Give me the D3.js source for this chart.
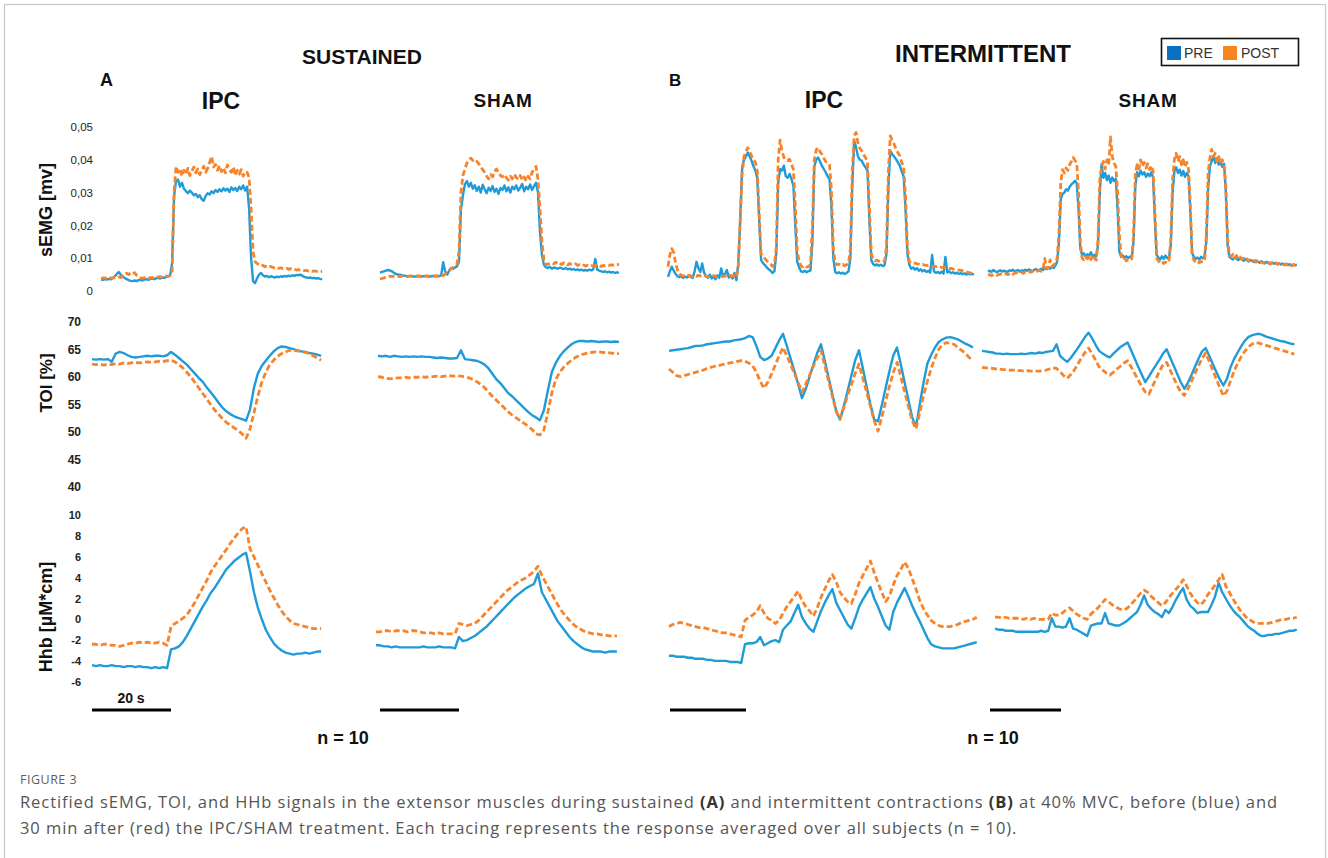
<!DOCTYPE html>
<html><head><meta charset="utf-8">
<script src="https://cdn.jsdelivr.net/npm/d3@7"></script>
<style>body{margin:0;background:#fff}svg{display:block}</style>
</head><body>
<svg id="c" width="1328" height="858"></svg>
<script>
// ---------------- DATA ----------------
// sEMG [mV], sampled every 0.5 s
const emgSustIpcPre = [
.0035,.0034,.0036,.0035,.0037,.0036,.0040,.0045,.0052,.0058,
.0050,.0044,.0040,.0036,.0033,.0031,.0030,.0032,.0030,.0033,
.0034,.0032,.0035,.0036,.0034,.0037,.0038,.0036,.0039,.0040,
.0038,.0041,.0040,.0043,.0045,.0048,.0085,.0290,.0335,.0340,
.0318,.0330,.0312,.0305,.0298,.0306,.0300,.0292,.0296,.0286,
.0292,.0280,.0275,.0290,.0298,.0294,.0304,.0298,.0308,.0302,
.0310,.0304,.0313,.0306,.0312,.0302,.0316,.0308,.0314,.0305,
.0318,.0310,.0322,.0306,.0318,.0250,.0100,.0030,.0024,.0038,
.0050,.0055,.0048,.0044,.0046,.0042,.0045,.0043,.0041,.0044,
.0042,.0045,.0043,.0046,.0044,.0047,.0045,.0048,.0046,.0049,
.0048,.0050,.0046,.0043,.0041,.0040,.0041,.0039,.0040,.0038,
.0039,.0037,.0036];
const emgSustIpcPost = [
.0038,.0040,.0039,.0041,.0038,.0040,.0039,.0042,.0040,.0043,
.0041,.0046,.0050,.0054,.0050,.0055,.0052,.0056,.0048,.0044,
.0040,.0039,.0041,.0040,.0038,.0041,.0040,.0042,.0040,.0043,
.0044,.0042,.0045,.0046,.0044,.0047,.0060,.0300,.0380,.0362,
.0372,.0350,.0368,.0356,.0374,.0352,.0366,.0378,.0360,.0372,
.0355,.0368,.0380,.0362,.0374,.0392,.0410,.0378,.0386,.0368,
.0382,.0364,.0376,.0360,.0384,.0370,.0362,.0378,.0352,.0368,
.0356,.0370,.0350,.0364,.0362,.0345,.0250,.0120,.0090,.0084,
.0080,.0076,.0078,.0074,.0077,.0073,.0075,.0072,.0070,.0072,
.0069,.0071,.0068,.0067,.0069,.0066,.0068,.0065,.0066,.0064,
.0065,.0063,.0064,.0062,.0063,.0061,.0062,.0060,.0061,.0060,
.0061,.0059,.0060];
const emgSustShamPre = [
.0056,.0058,.0060,.0062,.0064,.0063,.0060,.0056,.0052,.0050,
.0050,.0048,.0047,.0046,.0045,.0046,.0045,.0044,.0045,.0046,
.0045,.0044,.0045,.0046,.0045,.0044,.0045,.0046,.0045,.0046,
.0045,.0048,.0088,.0060,.0050,.0062,.0070,.0068,.0072,.0075,
.0090,.0250,.0292,.0325,.0335,.0318,.0330,.0312,.0322,.0305,
.0318,.0300,.0324,.0310,.0298,.0315,.0305,.0320,.0302,.0312,
.0296,.0314,.0308,.0322,.0304,.0316,.0300,.0318,.0310,.0322,
.0306,.0315,.0326,.0304,.0318,.0310,.0325,.0308,.0320,.0330,
.0300,.0180,.0110,.0080,.0072,.0070,.0074,.0068,.0072,.0070,
.0068,.0071,.0069,.0067,.0070,.0066,.0068,.0065,.0067,.0064,
.0066,.0063,.0065,.0062,.0064,.0062,.0065,.0063,.0066,.0098,
.0065,.0062,.0060,.0058,.0060,.0057,.0059,.0056,.0058,.0055,
.0057,.0055];
const emgSustShamPost = [
.0037,.0038,.0040,.0042,.0044,.0045,.0044,.0045,.0046,.0045,
.0044,.0045,.0046,.0045,.0044,.0045,.0046,.0045,.0044,.0045,
.0046,.0045,.0044,.0045,.0046,.0045,.0044,.0045,.0046,.0045,
.0046,.0045,.0047,.0052,.0058,.0062,.0068,.0072,.0076,.0082,
.0120,.0300,.0352,.0372,.0390,.0400,.0405,.0398,.0402,.0395,
.0388,.0378,.0370,.0362,.0350,.0342,.0355,.0348,.0365,.0372,
.0360,.0352,.0348,.0355,.0345,.0338,.0350,.0342,.0356,.0346,
.0340,.0352,.0338,.0348,.0335,.0350,.0342,.0362,.0372,.0380,
.0340,.0250,.0150,.0095,.0080,.0082,.0084,.0086,.0083,.0088,
.0082,.0085,.0080,.0086,.0083,.0079,.0084,.0081,.0080,.0083,
.0078,.0080,.0077,.0079,.0076,.0078,.0075,.0077,.0076,.0078,
.0076,.0077,.0075,.0078,.0077,.0079,.0078,.0080,.0079,.0081,
.0080,.0082];
const emgIntIpcPre = [
.0043,.0060,.0074,.0062,.0052,.0045,.0042,.0046,.0040,.0044,
.0041,.0047,.0043,.0040,.0060,.0089,.0070,.0058,.0084,.0055,
.0046,.0040,.0050,.0038,.0044,.0036,.0048,.0040,.0069,.0045,
.0052,.0064,.0041,.0047,.0038,.0055,.0033,.0084,.0215,.0377,
.0400,.0410,.0422,.0410,.0397,.0380,.0367,.0345,.0215,.0094,
.0085,.0079,.0072,.0066,.0062,.0055,.0060,.0114,.0330,.0372,
.0367,.0382,.0350,.0345,.0357,.0341,.0320,.0200,.0090,.0072,
.0060,.0058,.0062,.0057,.0061,.0062,.0150,.0380,.0400,.0407,
.0395,.0382,.0372,.0362,.0350,.0340,.0260,.0100,.0058,.0054,
.0057,.0053,.0056,.0052,.0055,.0060,.0100,.0320,.0458,.0437,
.0410,.0400,.0397,.0385,.0377,.0367,.0215,.0094,.0082,.0078,
.0081,.0077,.0080,.0076,.0079,.0114,.0316,.0427,.0417,.0410,
.0402,.0392,.0382,.0365,.0350,.0250,.0114,.0080,.0068,.0072,
.0065,.0070,.0062,.0066,.0060,.0064,.0058,.0062,.0056,.0110,
.0060,.0055,.0058,.0054,.0059,.0053,.0104,.0056,.0060,.0054,
.0057,.0053,.0056,.0052,.0055,.0051,.0054,.0050,.0053,.0051,
.0052,.0050];
const emgIntIpcPost = [
.0074,.0110,.0129,.0118,.0085,.0064,.0052,.0048,.0046,.0047,
.0045,.0048,.0046,.0044,.0047,.0045,.0048,.0046,.0044,.0047,
.0045,.0043,.0046,.0044,.0047,.0045,.0043,.0046,.0045,.0044,
.0046,.0045,.0050,.0047,.0045,.0048,.0043,.0074,.0215,.0357,
.0410,.0425,.0437,.0425,.0412,.0400,.0392,.0365,.0235,.0114,
.0105,.0099,.0092,.0086,.0082,.0075,.0080,.0134,.0400,.0460,
.0427,.0407,.0400,.0397,.0402,.0387,.0370,.0260,.0120,.0092,
.0076,.0074,.0078,.0073,.0075,.0080,.0200,.0400,.0430,.0437,
.0425,.0417,.0405,.0395,.0390,.0385,.0310,.0130,.0085,.0080,
.0082,.0078,.0081,.0077,.0080,.0084,.0130,.0370,.0473,.0483,
.0450,.0435,.0427,.0415,.0407,.0392,.0255,.0114,.0095,.0092,
.0094,.0091,.0093,.0090,.0092,.0134,.0367,.0473,.0458,.0448,
.0432,.0422,.0412,.0392,.0380,.0290,.0134,.0090,.0086,.0084,
.0085,.0083,.0082,.0080,.0081,.0079,.0078,.0077,.0078,.0076,
.0075,.0074,.0075,.0073,.0072,.0071,.0072,.0070,.0068,.0069,
.0067,.0066,.0065,.0064,.0063,.0062,.0060,.0058,.0057,.0055,
.0054,.0053];
const emgIntShamPre = [
.0059,.0062,.0058,.0064,.0060,.0057,.0061,.0063,.0059,.0062,
.0060,.0058,.0063,.0061,.0065,.0060,.0062,.0064,.0059,.0063,
.0061,.0065,.0062,.0066,.0063,.0060,.0064,.0067,.0062,.0065,
.0068,.0064,.0070,.0066,.0072,.0068,.0074,.0070,.0078,.0090,
.0150,.0280,.0296,.0300,.0310,.0306,.0318,.0325,.0330,.0336,
.0328,.0250,.0130,.0110,.0115,.0105,.0112,.0108,.0118,.0104,
.0110,.0106,.0140,.0300,.0387,.0345,.0360,.0338,.0352,.0330,
.0346,.0335,.0342,.0250,.0120,.0104,.0108,.0102,.0106,.0100,
.0105,.0102,.0150,.0320,.0362,.0350,.0367,.0355,.0362,.0348,
.0358,.0350,.0362,.0346,.0220,.0110,.0102,.0096,.0106,.0098,
.0108,.0100,.0104,.0140,.0300,.0365,.0377,.0360,.0370,.0352,
.0366,.0348,.0360,.0350,.0240,.0115,.0104,.0098,.0102,.0096,
.0104,.0100,.0106,.0150,.0310,.0380,.0395,.0412,.0390,.0402,
.0385,.0396,.0378,.0388,.0300,.0140,.0104,.0100,.0096,.0102,
.0098,.0094,.0100,.0096,.0092,.0098,.0094,.0090,.0095,.0091,
.0088,.0093,.0089,.0086,.0091,.0087,.0084,.0089,.0085,.0082,
.0087,.0083,.0086,.0082,.0085,.0081,.0084,.0080,.0083,.0079,
.0082,.0078,.0081,.0079,.0080];
const emgIntShamPost = [
.0048,.0050,.0047,.0049,.0051,.0048,.0050,.0052,.0049,.0051,
.0053,.0050,.0052,.0055,.0051,.0054,.0056,.0053,.0055,.0057,
.0054,.0058,.0056,.0059,.0057,.0060,.0062,.0058,.0061,.0063,
.0060,.0065,.0099,.0068,.0072,.0095,.0074,.0080,.0085,.0100,
.0180,.0330,.0370,.0360,.0375,.0368,.0385,.0395,.0407,.0398,
.0390,.0300,.0150,.0100,.0095,.0104,.0098,.0108,.0096,.0110,
.0100,.0094,.0160,.0340,.0380,.0395,.0372,.0400,.0385,.0470,
.0410,.0390,.0380,.0300,.0170,.0110,.0094,.0098,.0092,.0096,
.0094,.0098,.0170,.0360,.0385,.0372,.0400,.0380,.0392,.0375,
.0388,.0370,.0382,.0365,.0250,.0100,.0092,.0086,.0090,.0084,
.0088,.0085,.0090,.0160,.0340,.0400,.0420,.0395,.0410,.0385,
.0400,.0378,.0392,.0370,.0260,.0110,.0094,.0088,.0092,.0086,
.0090,.0088,.0094,.0170,.0360,.0405,.0432,.0410,.0420,.0395,
.0410,.0388,.0400,.0380,.0320,.0160,.0110,.0105,.0112,.0102,
.0108,.0098,.0104,.0096,.0100,.0094,.0098,.0092,.0095,.0090,
.0093,.0088,.0091,.0086,.0089,.0085,.0088,.0084,.0087,.0083,
.0086,.0082,.0085,.0081,.0084,.0080,.0083,.0079,.0082,.0078,
.0081,.0077,.0080,.0078,.0079];

// TOI [%], sampled every 1 s
const toiSustIpcPre = [
63.2,63.1,63.2,63.1,63.2,62.7,64.2,64.5,64.3,63.9,
63.6,63.5,63.6,63.7,63.8,63.7,63.8,63.8,63.7,63.9,
64.5,64.0,63.4,62.8,62.2,61.4,60.6,59.8,59.1,58.1,
57.2,56.3,55.3,54.4,53.7,53.2,52.8,52.5,52.3,52.0,
54.0,58.0,60.6,62.0,62.9,63.8,64.6,65.2,65.5,65.4,
65.2,65.0,64.8,64.6,64.5,64.3,64.2,64.0,63.8];
const toiSustIpcPost = [
62.3,62.2,62.3,62.1,62.3,62.2,62.4,62.3,62.5,62.4,
62.5,62.6,62.5,62.6,62.7,62.6,62.7,62.8,62.8,62.9,
63.0,62.7,62.2,61.6,60.8,60.0,59.0,58.0,57.0,56.0,
55.0,54.0,53.2,52.4,51.7,51.2,50.7,50.2,49.6,48.8,
50.5,53.4,56.5,59.0,60.8,62.2,63.0,63.7,64.2,64.5,
64.8,64.8,64.7,64.6,64.4,64.2,63.8,63.4,63.0];
const toiSustShamPre = [
63.8,63.7,63.8,63.6,63.8,63.7,63.6,63.7,63.6,63.7,
63.6,63.7,63.6,63.6,63.5,63.4,63.5,63.4,63.3,63.3,
63.4,64.8,63.2,63.1,63.0,62.9,62.6,62.2,61.5,60.5,
59.5,58.8,57.9,57.0,56.4,55.7,55.0,54.3,53.6,53.0,
52.6,52.1,53.9,57.5,60.8,62.5,63.7,64.6,65.3,65.9,
66.3,66.5,66.5,66.4,66.5,66.4,66.3,66.4,66.4,66.3,
66.4,66.3];
const toiSustShamPost = [
60.0,59.9,59.7,59.6,59.7,59.8,59.8,59.9,59.8,59.9,
59.9,60.0,59.9,60.0,60.0,60.1,60.0,60.1,60.2,60.1,
60.2,60.1,60.0,59.8,59.5,59.1,58.6,58.0,57.2,56.4,
55.7,55.0,54.3,53.6,53.0,52.5,52.0,51.5,51.0,50.4,
49.6,49.4,50.3,53.5,57.0,59.5,60.8,61.7,62.4,63.0,
63.5,63.9,64.1,64.3,64.4,64.5,64.5,64.4,64.4,64.3,
64.2,64.2];
const toiIntIpcPre = [
64.7,64.8,64.9,65.0,65.1,65.2,65.4,65.6,65.6,65.7,
65.9,66.0,66.1,66.2,66.3,66.4,66.4,66.6,66.7,66.8,
67.0,67.4,67.2,65.6,63.6,63.0,63.3,63.8,65.2,66.6,
67.8,65.6,63.3,61.0,58.6,56.1,57.8,60.0,62.2,64.3,
65.9,62.9,59.8,56.8,53.8,52.2,54.6,57.4,60.2,63.0,
64.8,61.6,58.2,55.0,52.2,51.9,54.8,57.9,61.0,63.8,
65.3,62.2,59.0,55.8,52.6,50.9,55.0,59.0,62.4,64.0,
65.3,66.3,66.8,67.1,67.2,67.0,66.8,66.4,66.0,65.7,65.3];
const toiIntIpcPost = [
61.4,60.8,60.2,60.0,60.2,60.4,60.6,60.8,61.0,61.2,
61.5,61.7,61.9,62.0,62.2,62.3,62.5,62.6,62.8,62.9,
62.8,62.5,62.0,60.8,59.2,57.9,59.0,60.5,62.2,63.8,
65.3,63.8,62.2,60.6,58.9,57.2,58.7,60.3,61.9,63.4,
64.7,62.0,59.2,56.4,53.6,52.3,54.4,56.6,58.6,60.6,
62.3,59.8,57.2,54.6,52.0,50.1,52.6,55.5,58.2,60.7,
62.6,60.0,57.3,54.6,52.0,50.5,53.5,56.6,59.2,61.5,
63.4,65.0,65.9,66.2,66.1,65.9,65.3,64.8,64.2,63.5,62.9];
const toiIntShamPre = [
64.7,64.6,64.5,64.4,64.2,64.2,64.1,64.2,64.1,64.1,
64.1,64.2,64.1,64.2,64.3,64.2,64.4,64.3,64.5,64.6,
64.7,65.9,63.8,63.2,62.7,63.4,64.3,65.2,66.2,67.2,
68.0,67.0,65.8,64.7,64.2,63.8,63.5,64.2,64.8,65.4,
65.8,66.2,64.8,63.3,61.8,60.4,59.0,60.0,61.1,62.1,
63.1,64.2,65.0,63.5,62.0,60.5,59.0,57.8,58.9,60.3,
61.8,63.3,64.6,65.2,63.8,62.3,60.9,59.5,58.4,59.6,
61.7,63.2,64.4,65.5,66.5,67.2,67.5,67.7,67.8,67.6,
67.3,67.1,66.9,66.7,66.5,66.4,66.2,66.0,65.9];
const toiIntShamPost = [
61.7,61.6,61.6,61.5,61.4,61.4,61.3,61.3,61.2,61.2,
61.1,61.1,61.0,61.1,61.0,61.0,61.0,61.1,61.2,61.4,
61.6,61.5,60.9,60.2,59.7,60.4,61.2,62.3,63.4,64.4,
65.2,64.2,63.0,61.8,61.2,60.7,60.3,60.8,61.4,61.9,
62.5,62.9,61.8,60.6,59.4,58.2,57.2,56.8,58.2,59.6,
61.0,62.2,62.6,61.2,59.8,58.4,57.2,56.6,57.8,59.2,
60.6,62.0,63.3,64.3,62.8,61.2,59.6,58.0,56.5,57.4,
59.2,61.0,62.4,63.6,64.6,65.4,65.9,66.2,66.1,65.9,
65.7,65.5,65.3,65.1,64.9,64.7,64.5,64.3,64.1];

// Hhb [uM*cm], sampled every 1 s
const hhbSustIpcPre = [
-4.4,-4.5,-4.4,-4.5,-4.5,-4.4,-4.5,-4.5,-4.6,-4.5,
-4.5,-4.6,-4.5,-4.6,-4.6,-4.7,-4.6,-4.7,-4.6,-4.7,
-2.9,-2.8,-2.6,-2.2,-1.6,-0.9,-0.2,0.5,1.2,1.8,
2.5,3.0,3.6,4.2,4.8,5.2,5.6,5.9,6.2,6.4,
4.6,2.6,1.1,0.0,-1.0,-1.7,-2.3,-2.7,-3.0,-3.2,
-3.3,-3.4,-3.3,-3.3,-3.2,-3.3,-3.2,-3.1,-3.1];
const hhbSustIpcPost = [
-2.4,-2.4,-2.5,-2.4,-2.4,-2.5,-2.5,-2.6,-2.5,-2.4,
-2.3,-2.3,-2.2,-2.3,-2.2,-2.3,-2.3,-2.2,-2.3,-2.5,
-0.7,-0.4,-0.2,0.1,0.4,1.0,1.6,2.3,3.0,3.7,
4.5,5.1,5.6,6.2,6.7,7.3,7.8,8.3,8.7,8.9,
6.8,6.0,5.2,4.4,3.6,2.8,2.1,1.4,0.8,0.3,
-0.1,-0.4,-0.5,-0.6,-0.7,-0.8,-0.9,-0.9,-0.9];
const hhbSustShamPre = [
-2.5,-2.5,-2.6,-2.6,-2.7,-2.6,-2.7,-2.7,-2.7,-2.7,
-2.7,-2.7,-2.6,-2.7,-2.7,-2.7,-2.6,-2.7,-2.7,-2.7,
-2.8,-1.7,-2.1,-2.0,-1.8,-1.6,-1.3,-1.0,-0.7,-0.3,
0.1,0.5,0.9,1.3,1.7,2.1,2.4,2.7,3.0,3.2,
3.4,4.4,2.6,1.9,1.2,0.5,-0.2,-0.7,-1.2,-1.7,
-2.1,-2.4,-2.7,-2.9,-3.0,-3.1,-3.1,-3.1,-3.2,-3.1,
-3.1,-3.1];
const hhbSustShamPost = [
-1.2,-1.2,-1.1,-1.1,-1.2,-1.1,-1.1,-1.1,-1.2,-1.1,
-1.1,-1.2,-1.3,-1.3,-1.3,-1.4,-1.3,-1.4,-1.4,-1.4,
-1.4,-0.4,-0.5,-0.6,-0.5,-0.4,-0.1,0.3,0.7,1.1,
1.5,1.9,2.3,2.7,3.0,3.3,3.6,3.8,4.0,4.3,
4.6,5.1,4.2,3.5,2.8,2.1,1.4,0.8,0.3,-0.1,
-0.5,-0.8,-1.0,-1.2,-1.3,-1.4,-1.4,-1.5,-1.5,-1.6,
-1.6,-1.6];
const hhbIntIpcPre = [
-3.5,-3.5,-3.6,-3.6,-3.6,-3.7,-3.7,-3.8,-3.8,-3.8,
-3.9,-3.9,-4.0,-4.0,-4.0,-4.0,-4.1,-4.1,-4.1,-4.2,
-2.4,-2.3,-2.3,-2.2,-1.7,-2.5,-2.3,-2.1,-2.0,-2.2,
-1.0,-0.6,-0.2,0.6,1.4,0.2,-0.4,-0.9,-1.2,-0.2,
0.8,1.6,2.3,2.9,1.6,0.9,0.2,-0.5,-0.9,0.1,
1.2,1.9,2.5,3.1,2.0,1.2,0.3,-0.6,-1.0,0.7,
1.6,2.3,3.0,2.2,1.3,0.5,-0.2,-1.0,-1.8,-2.4,
-2.6,-2.7,-2.8,-2.8,-2.8,-2.8,-2.7,-2.6,-2.5,-2.4,-2.3,-2.2];
const hhbIntIpcPost = [
-0.7,-0.5,-0.4,-0.3,-0.4,-0.5,-0.6,-0.7,-0.8,-0.8,
-0.9,-1.0,-1.1,-1.2,-1.3,-1.3,-1.4,-1.5,-1.6,-1.7,
-0.1,0.2,0.4,0.7,1.3,0.6,0.1,-0.1,-0.4,-0.1,
0.6,1.2,1.7,2.2,2.7,1.8,1.2,0.8,0.3,1.1,
2.1,2.9,3.7,4.3,3.6,2.6,2.1,1.7,1.5,2.4,
3.5,4.2,4.9,5.6,4.5,3.5,2.6,1.7,2.2,3.3,
4.2,4.8,5.5,4.9,3.9,2.9,1.8,1.0,0.4,-0.1,
-0.4,-0.6,-0.7,-0.7,-0.7,-0.6,-0.5,-0.3,-0.2,-0.1,0.0,0.2];
const hhbIntShamPre = [
-0.9,-1.0,-1.0,-1.1,-1.1,-1.1,-1.2,-1.2,-1.2,-1.2,
-1.2,-1.2,-1.2,-1.1,-1.2,-1.1,0.1,-0.7,-0.7,-0.8,
-0.7,0.1,-0.9,-1.0,-1.2,-1.4,-1.6,-0.6,-0.5,-0.4,
-0.4,0.6,-0.4,-0.5,-0.6,-0.6,-0.4,-0.2,0.1,0.4,
0.7,1.4,2.3,1.4,1.0,0.7,0.5,0.2,0.9,0.6,
1.2,1.9,2.5,3.0,1.9,1.3,1.0,0.6,0.7,0.7,
0.7,1.4,2.2,3.5,2.6,2.0,1.4,0.9,0.5,0.2,
-0.2,-0.6,-0.9,-1.1,-1.4,-1.6,-1.6,-1.5,-1.5,-1.4,
-1.4,-1.3,-1.2,-1.1,-1.1,-1.0];
const hhbIntShamPost = [
0.2,0.2,0.1,0.2,0.1,0.1,0.1,0.1,0.0,0.1,
0.0,0.1,0.0,0.0,0.0,0.0,0.6,0.4,0.4,0.6,
0.9,1.1,0.8,0.5,0.3,0.1,0.0,0.5,0.8,1.1,
1.5,1.9,1.7,1.4,1.2,1.0,0.9,1.0,1.3,1.7,
2.1,2.5,2.8,2.6,2.2,1.9,1.6,1.3,1.6,2.1,
2.5,2.9,3.3,3.8,3.2,2.5,2.0,1.6,1.4,1.8,
2.4,2.8,3.3,3.8,4.3,3.2,2.6,2.0,1.4,0.9,
0.5,0.1,-0.1,-0.3,-0.4,-0.4,-0.4,-0.4,-0.3,-0.2,
-0.1,0.0,0.0,0.1,0.1,0.2];

// ticks
const emgTicks = [0,0.01,0.02,0.03,0.04,0.05];
const emgTickLabels = ["0","0,01","0,02","0,03","0,04","0,05"];
const toiTicks = [40,45,50,55,60,65,70];
const hhbTicks = [-6,-4,-2,0,2,4,6,8,10];
const seriesNames = ["PRE","POST"];

// ---------------- DRAW ----------------
const svg = d3.select("#c");
const FONT = "'Liberation Sans', Arial, Helvetica, sans-serif";
const BLUE = "#1f9bd8", ORANGE = "#f7842a";

svg.append("rect").attr("x",4.5).attr("y",4.5).attr("width",1321).attr("height",900)
  .attr("fill","#fff").attr("stroke","#c8c8c8").attr("stroke-width",1.2);

const yEmg = d3.scaleLinear().domain([0,0.05]).range([291,127]);
const yToi = d3.scaleLinear().domain([40,70]).range([486.7,321.7]);
const yHhb = d3.scaleLinear().domain([-6,10]).range([681.7,515.3]);

const traces = [
  {pre:emgSustIpcPre,  post:emgSustIpcPost,  y:yEmg, x0:101, pps:3.95, dt:0.5},
  {pre:emgSustShamPre, post:emgSustShamPost, y:yEmg, x0:380, pps:3.95, dt:0.5},
  {pre:emgIntIpcPre,   post:emgIntIpcPost,   y:yEmg, x0:668, pps:3.8,  dt:0.5},
  {pre:emgIntShamPre,  post:emgIntShamPost,  y:yEmg, x0:988, pps:3.55, dt:0.5},
  {pre:toiSustIpcPre,  post:toiSustIpcPost,  y:yToi, x0:92,  pps:3.95, dt:1},
  {pre:toiSustShamPre, post:toiSustShamPost, y:yToi, x0:378, pps:3.95, dt:1},
  {pre:toiIntIpcPre,   post:toiIntIpcPost,   y:yToi, x0:669, pps:3.8,  dt:1},
  {pre:toiIntShamPre,  post:toiIntShamPost,  y:yToi, x0:982, pps:3.55, dt:1},
  {pre:hhbSustIpcPre,  post:hhbSustIpcPost,  y:yHhb, x0:92,  pps:3.95, dt:1},
  {pre:hhbSustShamPre, post:hhbSustShamPost, y:yHhb, x0:376, pps:3.95, dt:1},
  {pre:hhbIntIpcPre,   post:hhbIntIpcPost,   y:yHhb, x0:669, pps:3.8,  dt:1},
  {pre:hhbIntShamPre,  post:hhbIntShamPost,  y:yHhb, x0:995, pps:3.55, dt:1}
];

const gLines = svg.append("g");
traces.forEach(tr => {
  [["pre",BLUE,2.4,null],["post",ORANGE,2.8,"6 3"]].forEach(([k,col,w,dash]) => {
    const arr = tr[k];
    const tMax = (arr.length-1)*tr.dt;
    const x = d3.scaleLinear().domain([0,tMax]).range([tr.x0, tr.x0 + tMax*tr.pps]);
    const line = d3.line().x((d,i)=>x(i*tr.dt)).y(d=>tr.y(d));
    const p = gLines.append("path").datum(arr).attr("d",line)
      .attr("fill","none").attr("stroke",col).attr("stroke-width",w)
      .attr("stroke-linejoin","round");
    if (dash) p.attr("stroke-dasharray",dash);
  });
});

function yAxis(scale, ticks, fmt, x, size, weight){
  const g = svg.append("g").attr("transform",`translate(${x},0)`)
    .call(d3.axisLeft(scale).tickValues(ticks).tickSize(0).tickPadding(0).tickFormat(fmt));
  g.select(".domain").remove();
  g.selectAll("text").attr("font-family",FONT).attr("font-size",size)
    .attr("font-weight",weight).attr("fill","#222");
}
yAxis(yEmg, emgTicks, (d,i)=>emgTickLabels[i], 93, 11.5, "normal");
yAxis(yToi, toiTicks, d=>String(d), 81, 12, "bold");
yAxis(yHhb, hhbTicks, d=>String(d), 81, 11, "bold");

function txt(x,y,s,size,weight,anchor,extra){
  const t = svg.append("text").attr("x",x).attr("y",y).text(s)
    .attr("font-family",FONT).attr("font-size",size).attr("font-weight",weight||"bold")
    .attr("text-anchor",anchor||"middle").attr("fill","#111");
  if (extra) extra(t);
  return t;
}
// titles
txt(362,64,"SUSTAINED",21,"bold");
txt(983,62,"INTERMITTENT",24,"bold");
txt(100,86,"A",18,"bold","start");
txt(669,86,"B",17,"bold","start");
txt(221,109,"IPC",23,"bold");
txt(503,107,"SHAM",19,"bold","middle",t=>t.attr("letter-spacing",0.8));
txt(824,108,"IPC",23,"bold");
txt(1148,107,"SHAM",19,"bold","middle",t=>t.attr("letter-spacing",0.8));

// y titles
[["sEMG [mv]",210,18],["TOI [%]",383,17],["Hhb [µM*cm]",617,18]].forEach(([s,cy,sz])=>{
  svg.append("text").attr("transform",`translate(52,${cy}) rotate(-90)`)
    .attr("text-anchor","middle").attr("font-family",FONT).attr("font-size",sz)
    .attr("font-weight","bold").attr("fill","#111").text(s);
});

// scale bars (20 s)
const bars = [{x0:92,pps:3.95},{x0:380,pps:3.95},{x0:670,pps:3.8},{x0:990,pps:3.55}];
const barSeconds = 20;
bars.forEach(b=>{
  svg.append("line").attr("x1",b.x0).attr("x2",b.x0+barSeconds*b.pps)
    .attr("y1",710).attr("y2",710).attr("stroke","#000").attr("stroke-width",3);
});
txt(131,703,"20 s",14,"bold");
txt(343,744,"n = 10",18,"bold");
txt(993,744,"n = 10",18,"bold");

// legend
const lg = svg.append("g");
lg.append("rect").attr("x",1161.5).attr("y",38.5).attr("width",137).attr("height",27)
  .attr("fill","#fff").attr("stroke","#111").attr("stroke-width",1.6);
lg.append("rect").attr("x",1167).attr("y",46).attr("width",14).attr("height",14).attr("fill","#0b70c0");
lg.append("rect").attr("x",1223).attr("y",46).attr("width",14).attr("height",14).attr("fill","#f7841f");
lg.append("text").attr("x",1184).attr("y",58).text(seriesNames[0]).attr("font-family",FONT).attr("font-size",14).attr("fill","#333");
lg.append("text").attr("x",1241).attr("y",58).text(seriesNames[1]).attr("font-family",FONT).attr("font-size",14).attr("fill","#333");

// caption
const CF = "'Open Sans', 'Noto Sans', sans-serif";
svg.append("text").attr("x",20).attr("y",784).text("FIGURE 3")
  .attr("font-family",CF).attr("font-size",12.5).attr("fill","#5f5f5f").attr("letter-spacing",0.5);
const l1 = svg.append("text").attr("x",20).attr("y",808).attr("font-family",CF).attr("font-size",16.5).attr("fill","#555");
l1.append("tspan").text("Rectified sEMG, TOI, and HHb signals in the extensor muscles during sustained ");
l1.append("tspan").attr("font-weight","bold").attr("fill","#333").text("(A)");
l1.append("tspan").text(" and intermittent contractions ");
l1.append("tspan").attr("font-weight","bold").attr("fill","#333").text("(B)");
l1.append("tspan").text(" at 40% MVC, before (blue) and");
const l2 = svg.append("text").attr("x",20).attr("y",834).attr("font-family",CF).attr("font-size",16.5).attr("fill","#555")
  .text("30 min after (red) the IPC/SHAM treatment. Each tracing represents the response averaged over all subjects (n = 10).");
const w1 = l1.node().getComputedTextLength();
const nChars = l1.text().length;
const ls = Math.max(0, (1258 - w1) / nChars);
l1.attr("letter-spacing", ls); l2.attr("letter-spacing", ls);
</script></body></html>
